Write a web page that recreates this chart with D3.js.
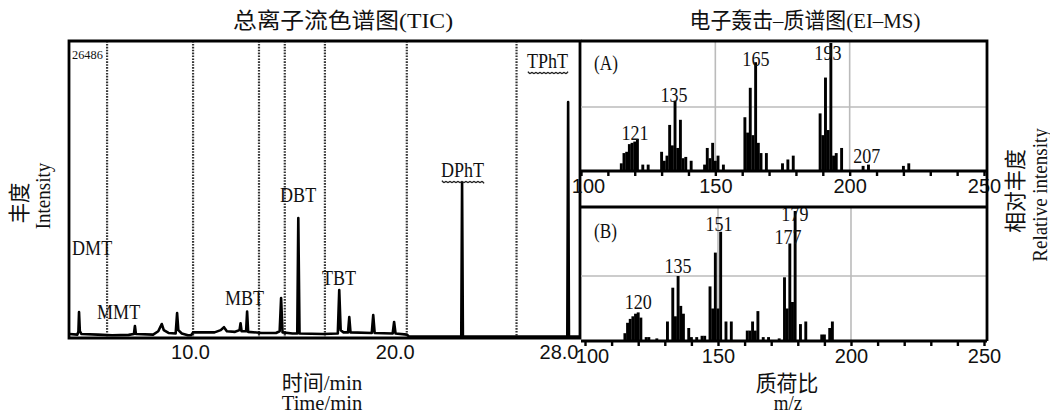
<!DOCTYPE html>
<html>
<head>
<meta charset="utf-8">
<script src="https://cdn.jsdelivr.net/npm/d3@7"></script>
<style>
  body { margin: 0; background: #fff; }
  svg { display: block; font-family: 'Liberation Serif', 'Times New Roman', 'Noto Sans CJK SC', serif; }
</style>
</head>
<body>
<div id="chart"></div>
<script>
// ---- TIC (left) ----
const timeTicks = [10, 20, 28];
const ticMax = 26486;
const segmentLines = [5.95, 10.15, 13.37, 14.63, 16.59, 20.59, 25.95];
// [time/min, intensity]
const ticTrace = [
  [4.1, 350], [4.5, 300], [4.55, 600], [4.58, 2320], [4.62, 600], [4.7, 350],
  [5.5, 300], [6.2, 250], [7.0, 280], [7.26, 350], [7.31, 1070], [7.36, 350],
  [8.2, 300], [8.45, 600], [8.62, 1250], [8.72, 700], [8.95, 450], [9.3, 400],
  [9.37, 2230], [9.43, 700], [9.6, 400], [9.9, 250], [10.05, 250], [10.15, 500],
  [11.2, 500], [11.5, 700], [11.66, 960], [11.8, 600], [12.2, 550], [12.42, 700],
  [12.47, 1320], [12.52, 600], [12.74, 600], [12.79, 2350], [12.84, 550], [13.5, 450],
  [14.2, 450], [14.38, 600], [14.45, 3570], [14.52, 500], [15.0, 400], [15.24, 400],
  [15.29, 10700], [15.35, 400], [16.5, 350], [17.22, 400], [17.29, 4280], [17.36, 700],
  [17.5, 500], [17.72, 500], [17.78, 1870], [17.84, 500], [18.88, 450], [18.95, 2050],
  [19.02, 450], [19.9, 400], [19.97, 1430], [20.04, 400], [20.6, 300], [20.7, 120],
  [23.25, 120], [23.29, 13820], [23.33, 120], [28.43, 120], [28.47, 21050], [28.51, 120],
  [29.05, 120]
];
const compoundNames = ['DMT', 'MMT', 'MBT', 'DBT', 'TBT', 'DPhT', 'TPhT'];
const compoundTime = [4.24, 5.46, 11.71, 14.40, 16.45, 22.26, 26.46];
const compoundLevel = [7400, 1690, 2940, 12130, 4730, 14360, 24080];
const wavyNames = ['DPhT', 'TPhT'];

// ---- EI-MS (right) ----
const mzTicks = [100, 110, 120, 130, 140, 150, 160, 170, 180, 190, 200, 210, 220, 230, 240, 250];
const mzLabels = [100, 150, 200, 250];
const gridMz = [150, 200];
const specA = [
  [115, 6], [116, 14], [117, 15], [118, 21], [119, 22], [120, 23], [121, 25], [123, 5], [125, 5],
  [130, 15], [131, 8], [132, 12], [133, 36], [134, 20], [135, 55], [136, 18], [137, 40], [138, 10], [139, 11], [141, 8],
  [146, 5], [147, 18], [148, 10], [149, 22], [150, 8], [151, 12], [153, 5],
  [161, 42], [162, 30], [163, 65], [164, 28], [165, 85], [166, 22], [167, 14], [169, 14],
  [175, 6], [177, 9], [179, 12],
  [189, 45], [190, 28], [191, 73], [192, 32], [193, 100], [194, 12], [195, 14], [197, 18],
  [205, 4], [207, 5], [220, 4], [222, 6]
];
const specB = [
  [115, 6], [116, 14], [117, 17], [118, 19], [119, 21], [120, 22], [121, 18], [123, 3], [124, 3], [127, 2],
  [131, 15], [133, 41], [134, 19], [135, 50], [136, 27], [137, 21], [139, 10], [140, 3], [142, 3], [144, 4], [145, 4],
  [147, 42], [148, 25], [149, 68], [150, 25], [151, 84], [153, 15], [155, 15],
  [161, 8], [162, 8], [163, 15], [164, 8], [165, 23], [167, 3], [169, 3], [173, 2],
  [175, 49], [176, 25], [177, 75], [178, 30], [179, 100], [181, 13], [183, 15],
  [189, 5], [190, 5], [192, 10], [193, 15]
];
// [text, m/z, level]
const peakLabelsA = [['121', 120.1, 24], ['135', 134.6, 54], ['165', 165.1, 82], ['193', 191.9, 87], ['207', 206.4, 6]];
const peakLabelsB = [['120', 120, 25], ['135', 135, 52], ['151', 150.4, 85], ['177', 176.3, 75], ['179', 178.9, 92]];

const W = 1050, H = 416;
const svg = d3.select('#chart').append('svg').attr('width', W).attr('height', H);
svg.append('rect').attr('width', W).attr('height', H).attr('fill', '#fff');

const SQ = 0.86;
function txt(g, s, x, y, size, anchor, sx, rot) {
  return g.append('text')
    .attr('transform', `translate(${x},${y}) rotate(${rot || 0}) scale(${sx || 1},1)`)
    .attr('text-anchor', anchor || 'start')
    .style('font-size', size + 'px')
    .attr('fill', '#111')
    .text(s);
}

// scales
const xT = d3.scaleLinear().domain([4.09, 29.05]).range([69, 580]);
const yT = d3.scaleLinear().domain([0, ticMax]).range([338, 41]);
const xA = d3.scaleLinear().domain([100, 250]).range([581, 984]);
const yA = d3.scaleLinear().domain([0, 100]).range([171, 43]);
const xB = d3.scaleLinear().domain([100, 250]).range([585, 984]);
const yB = d3.scaleLinear().domain([0, 100]).range([341, 211]);

// ---------- left TIC ----------
const gT = svg.append('g');
svg.append('clipPath').attr('id', 'clipT').append('rect')
  .attr('x', 69).attr('y', 41).attr('width', 511).attr('height', 297);

gT.selectAll('.seg').data(segmentLines).join('line')
  .attr('x1', d => xT(d)).attr('x2', d => xT(d))
  .attr('y1', yT(ticMax)).attr('y2', yT(0))
  .attr('stroke', '#333').attr('stroke-width', 2.2).attr('stroke-dasharray', '1.6,1.3');

const line = d3.line().x(d => xT(d[0])).y(d => yT(d[1]));
gT.append('path').datum(ticTrace).attr('d', line)
  .attr('clip-path', 'url(#clipT)')
  .attr('fill', 'none').attr('stroke', '#000').attr('stroke-width', 2.6).attr('stroke-linejoin', 'round');

const axT = gT.append('g').attr('transform', `translate(0,${yT(0)})`)
  .call(d3.axisBottom(xT).tickValues(timeTicks).tickFormat(d3.format('.1f')).tickSize(0).tickPadding(7));
axT.select('.domain').remove();
axT.selectAll('text').style('font-size', '20px').attr('fill', '#111').style('font-family', null);

txt(gT, String(ticMax), 72, 59, 13, 'start', 0.95);

compoundNames.forEach((n, i) => {
  const t = txt(gT, n, xT(compoundTime[i]), yT(compoundLevel[i]), 21, 'start', SQ);
  if (wavyNames.includes(n)) {
    const w = t.node().getComputedTextLength() * SQ;
    const x0 = xT(compoundTime[i]) + 1, y0 = yT(compoundLevel[i]) + 5;
    const pts = d3.range(0, w - 1, 2).map((d, k) => [x0 + d, y0 + (k % 2 ? 1.4 : -1.4)]);
    gT.append('path').attr('d', d3.line().curve(d3.curveBasis)(pts))
      .attr('fill', 'none').attr('stroke', '#222').attr('stroke-width', 1.4);
  }
});

// frame for left
gT.append('path')
  .attr('d', `M${xT.range()[0]},${yT(0)}V${yT(ticMax)}H${xT.range()[1]}V${yT(0)}Z`)
  .attr('fill', 'none').attr('stroke', '#000').attr('stroke-width', 2.8);

// ---------- right MS panels ----------
function panel(spec, xs, ys, labels, tag, top) {
  const g = svg.append('g');
  const x0 = 581, x1 = 987, yb = ys(0);
  // grid
  g.selectAll('.gv').data(gridMz).join('line')
    .attr('x1', d => xs(d)).attr('x2', d => xs(d)).attr('y1', top).attr('y2', yb)
    .attr('stroke', '#bbb').attr('stroke-width', 1.6);
  g.append('line').attr('x1', x0).attr('x2', x1).attr('y1', ys(50)).attr('y2', ys(50))
    .attr('stroke', '#bbb').attr('stroke-width', 1.6);
  // bars
  g.selectAll('.bar').data(spec).join('rect')
    .attr('x', d => xs(d[0]) - 1.45).attr('width', 2.9)
    .attr('y', d => ys(d[1])).attr('height', d => yb - ys(d[1]))
    .attr('fill', '#000');
  // axis
  const ax = g.append('g').attr('transform', `translate(0,${yb})`)
    .call(d3.axisBottom(xs).tickValues(mzTicks).tickSize(5).tickPadding(3)
      .tickFormat(d => mzLabels.includes(d) ? d : ''));
  ax.select('.domain').attr('stroke-width', 3).attr('d', `M${x0},0H${x1}`);
  ax.selectAll('line').attr('stroke-width', 2.4);
  ax.selectAll('text').style('font-size', '20px').attr('fill', '#111').style('font-family', null)
    .attr('dx', d => d === mzLabels[0] ? 7 : 0);
  // labels
  labels.forEach(l => txt(g, l[0], xs(l[1]), ys(l[2]), 21, 'middle', SQ));
  txt(g, tag, 594, ys(79), 20, 'start', SQ);
  return g;
}
panel(specA, xA, yA, peakLabelsA, '(A)', 41);
panel(specB, xB, yB, peakLabelsB, '(B)', 207);

// frames for right panels
svg.append('path').attr('d', 'M581,41H987V341M581,207H987')
  .attr('fill', 'none').attr('stroke', '#000').attr('stroke-width', 2.8);

// ---------- titles and axis names ----------
txt(svg, '总离子流色谱图(TIC)', 343, 28, 22, 'middle', 1.08);
txt(svg, '电子轰击–质谱图(EI–MS)', 805, 28, 22, 'middle', 0.95);
txt(svg, '时间/min', 322, 390, 21, 'middle', 1.0);
txt(svg, 'Time/min', 322, 410, 21, 'middle', 0.98);
txt(svg, '质荷比', 787, 391, 22, 'middle', 0.95);
txt(svg, 'm/z', 788, 410, 20, 'middle', 0.95);
txt(svg, '丰度', 27, 203, 22, 'middle', 0.92, -90);
txt(svg, 'Intensity', 50, 196, 20, 'middle', 0.95, -90);
txt(svg, '相对丰度', 1023, 191, 22, 'middle', 0.95, -90);
txt(svg, 'Relative intensity', 1047, 195, 20, 'middle', 0.95, -90);
</script>
</body>
</html>
